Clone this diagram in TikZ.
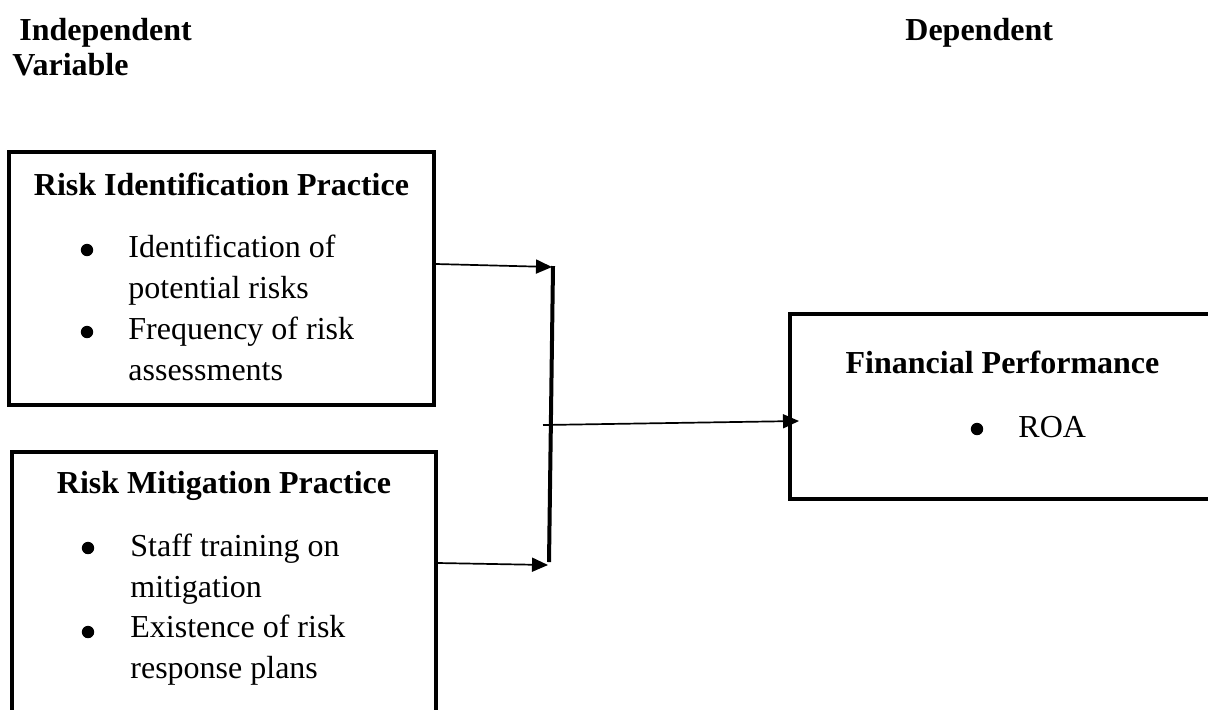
\documentclass[tikz,border=0pt]{standalone}
\usepackage{fontspec}
\setmainfont{Liberation Serif}
\usetikzlibrary{arrows.meta}
\tikzset{every picture/.append style={x=0.5pt, y=-0.5pt}}
\tikzset{
    box/.style={draw, rectangle, line width=2.2pt, inner sep=0pt},
    head/.style={anchor=base west, inner sep=0pt, font=\fontsize{16}{19}\selectfont\bfseries},
    title/.style={anchor=base, inner sep=0pt, font=\fontsize{16}{19}\selectfont\bfseries},
    item/.style={anchor=base west, inner sep=0pt, align=left,
    	font=\fontsize{16}{20.3}\selectfont},
    dot/.style={circle, fill, inner sep=0pt, minimum size=6.2pt},
    link/.style={line width=0.85pt, -{Triangle[length=8pt, width=7pt]}}
}

\begin{document}
\begin{tikzpicture}
	\useasboundingbox (0,0) rectangle (1208,709);
	\clip (0,0) rectangle (1208,709);

	% headings
	\node (hdind) [head] at (19,40) {Independent};
	\node (hdvar) [head] at (12,75) {Variable};
	\node (hddep) [head] at (905,40) {Dependent};

	% boxes
	\node (idbox) [box, minimum width=212.5pt, minimum height=126.5pt] at (221.5,278.5) {};
	\node (mitbox) [box, minimum width=212pt, minimum height=144pt] at (224,596) {};
	\node (fpbox) [box, minimum width=225pt, minimum height=92.5pt] at (1015,406.5) {};

	\node (idtitle) [title] at (221.5,195) {Risk Identification Practice};
	\node (mittitle) [title] at (224,493) {Risk Mitigation Practice};
	\node (fptitle) [title] at (1002.5,373) {Financial Performance};

	\node (d1) [dot] at (87,250) {};
	\node (d2) [dot] at (87,332) {};
	\node (d3) [dot] at (88,548) {};
	\node (d4) [dot] at (88,632) {};
	\node (d5) [dot] at (977,429) {};

	% base is the last line here
	\node (id1) [item] at (128,298) {Identification of\\potential risks};
	\node (id2) [item] at (128,380) {Frequency of risk\\assessments};
	\node (mit1) [item] at (130,597) {Staff training on\\mitigation};
	\node (mit2) [item] at (130,678) {Existence of risk\\response plans};
	\node (fp1) [item] at (1018,437) {ROA};

	% joining bar and arrows
	\coordinate (bartop) at (553,266);
	\coordinate (barbot) at (549,562);
	\coordinate (in1) at (idbox.east |- 0,264);
	\coordinate (at1) at (552,267);
	\coordinate (in2) at (mitbox.east |- 0,563);
	\coordinate (at2) at (548,565);
	\coordinate (out) at (543,425);
	\coordinate (atfp) at (799,421);

	\draw [line width=2pt] (bartop) -- (barbot);
	\draw [link] (in1) -- (at1);
	\draw [link] (in2) -- (at2);
	\draw [link] (out) -- (atfp);
\end{tikzpicture}
\end{document}
